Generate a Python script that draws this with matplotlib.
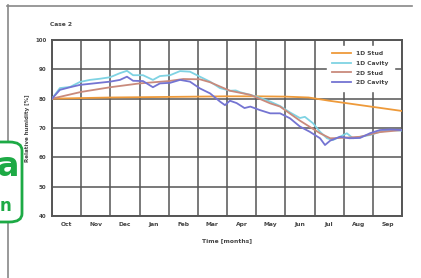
import matplotlib
matplotlib.use("Agg")
import matplotlib.pyplot as plt
from matplotlib.patches import FancyBboxPatch
from matplotlib.lines import Line2D

# ---- data (months since start of Oct, RH %) ----
months = ["Oct", "Nov", "Dec", "Jan", "Feb", "Mar", "Apr", "May", "Jun", "Jul", "Aug", "Sep"]
yticks = [40, 50, 60, 70, 80, 90, 100]

stud1d_x = [0, 1, 2, 3, 4, 5, 6, 7, 8, 8.8, 9.5, 10, 11, 12]
stud1d_y = [80.0, 80.2, 80.4, 80.5, 80.6, 80.7, 80.8, 80.8, 80.7, 80.4, 79.3, 78.6, 77.2, 75.8]

cav1d_x = [0, 0.27, 0.62, 0.96, 1.3, 1.65, 1.99, 2.33, 2.57, 2.78, 3.12, 3.46, 3.7, 4.05,
           4.39, 4.73, 5.07, 5.42, 5.76, 6.1, 6.3, 6.45, 6.8, 7.13, 7.48, 7.82, 8.16, 8.5,
           8.67, 8.95, 9.19, 9.43, 9.63, 9.87, 10.11, 10.32, 10.56, 10.9, 11.24, 11.59, 12]
cav1d_y = [80, 83.6, 84, 85.7, 86.4, 86.8, 87.3, 88.7, 89.5, 88, 88, 86.4, 87.7, 88,
           89.4, 89.2, 87.5, 85.8, 83.6, 82.7, 82.8, 82.2, 81.3, 80.3, 79, 77.5, 75.3, 73.4,
           73.8, 71.6, 68.7, 66.5, 65.9, 67, 68.2, 66.5, 67, 67.6, 68.7, 69.3, 69.1]

stud2d_x = [0, 1, 2, 3, 4, 4.5, 5.07, 5.42, 6.1, 6.8, 7.48, 7.82, 8.5, 9.19, 9.54, 9.87,
            10.56, 11.24, 12]
stud2d_y = [80, 82.3, 83.9, 85.2, 86.0, 86.7, 86.6, 85.6, 82.7, 81.3, 78.4, 77.3, 72.5, 68.2,
            66.5, 66.6, 67, 68.6, 69.3]

cav2d_x = [0, 0.27, 0.62, 0.96, 1.99, 2.33, 2.57, 2.78, 3.12, 3.46, 3.7, 4.05, 4.39, 4.73,
           5.07, 5.42, 5.76, 5.93, 6.1, 6.33, 6.6, 6.8, 7.13, 7.48, 7.82, 8.16, 8.5, 8.84,
           9.19, 9.36, 9.54, 9.87, 10.2, 10.56, 10.9, 11.24, 11.59, 12]
cav2d_y = [80, 83, 83.9, 84.7, 85.8, 86.4, 87.5, 86.1, 86, 83.9, 85.2, 85.4, 86.4, 85.8,
           83.5, 81.8, 79, 77.8, 79.3, 78.5, 76.8, 77.3, 76.1, 75, 75, 73.3, 70.5, 68.7,
           66.5, 64.2, 65.7, 67, 66.5, 66.6, 68.2, 69.3, 69.5, 69.3]

labels = ["1D Stud", "1D Cavity", "2D Stud", "2D Cavity"]
colors = ["#EE9A3A", "#7FD3E3", "#C98A7C", "#7474D2"]

W, H = 421, 278
fig = plt.figure(figsize=(W / 100, H / 100), dpi=100)
fig.patch.set_facecolor("white")

ax = fig.add_axes([52 / W, 1 - 216 / H, 350 / W, 176 / H])
txtc = "#444444"
gridc = "#555555"

series = [(stud1d_x, stud1d_y), (cav1d_x, cav1d_y), (stud2d_x, stud2d_y), (cav2d_x, cav2d_y)]
for (xs, ys), c, lab in zip(series, colors, labels):
    ax.plot(xs, ys, color=c, lw=1.3, label=lab, zorder=3)

ax.set_xlim(0, 12)
ax.set_ylim(40, 100)
ax.set_yticks(yticks)
ax.set_yticklabels([str(v) for v in yticks], fontsize=4, fontweight="bold", color=txtc)
ax.set_xticks(range(0, 13))
ax.set_xticklabels([])
ax.set_xticks([i + 0.5 for i in range(12)], minor=True)
ax.set_xticklabels(months, minor=True, fontsize=4.3, fontweight="bold", color=txtc)
ax.tick_params(axis="both", which="both", length=0, pad=4)
ax.grid(True, which="major", color=gridc, lw=1.1)
ax.set_axisbelow(True)
for s in ax.spines.values():
    s.set_color("#555555")
    s.set_linewidth(1.4)

ax.set_xlabel("Time [months]", fontsize=4.3, fontweight="bold", color=txtc, labelpad=8)
ax.set_ylabel("Relative humidity [%]", fontsize=4, fontweight="bold", color=txtc, labelpad=4)
fig.text(50 / W, 1 - 24 / H, "Case 2", fontsize=4.3, fontweight="bold", color=txtc,
         va="center", ha="left")

leg = ax.legend(loc="upper right", bbox_to_anchor=(0.985, 0.985), fontsize=4.3, frameon=True,
                handlelength=3.2, handletextpad=0.8, labelspacing=0.75, borderpad=0.9)
leg.get_frame().set_edgecolor("white")
leg.get_frame().set_facecolor("white")
leg.get_frame().set_alpha(1)
leg.get_frame().set_boxstyle("square", pad=0)
for t in leg.get_texts():
    t.set_color(txtc)
    t.set_fontweight("bold")
for l in leg.get_lines():
    l.set_linewidth(1.3)

# outer frame lines
fig.add_artist(Line2D([7 / W, 412 / W], [1 - 5.5 / H, 1 - 5.5 / H], color="#888888", lw=1.2))
fig.add_artist(Line2D([7.5 / W, 7.5 / W], [0, 1 - 5 / H], color="#888888", lw=1.2))

# green label box at the left edge
box = FancyBboxPatch((-20 / W, 1 - 222 / H), 42 / W, 80 / H,
                     boxstyle="round,pad=0,rounding_size=0.03", transform=fig.transFigure,
                     facecolor="white", edgecolor="#1DAA45", lw=2, zorder=5)
fig.add_artist(box)
fig.text(19 / W, 1 - 166 / H, "a", fontsize=24, fontweight="bold", color="#1DAA45",
         ha="right", va="center", zorder=6)
fig.text(11 / W, 1 - 206 / H, "n", fontsize=12, fontweight="bold", color="#1DAA45",
         ha="right", va="center", zorder=6)

fig.savefig("out.png", dpi=100, facecolor="white")
